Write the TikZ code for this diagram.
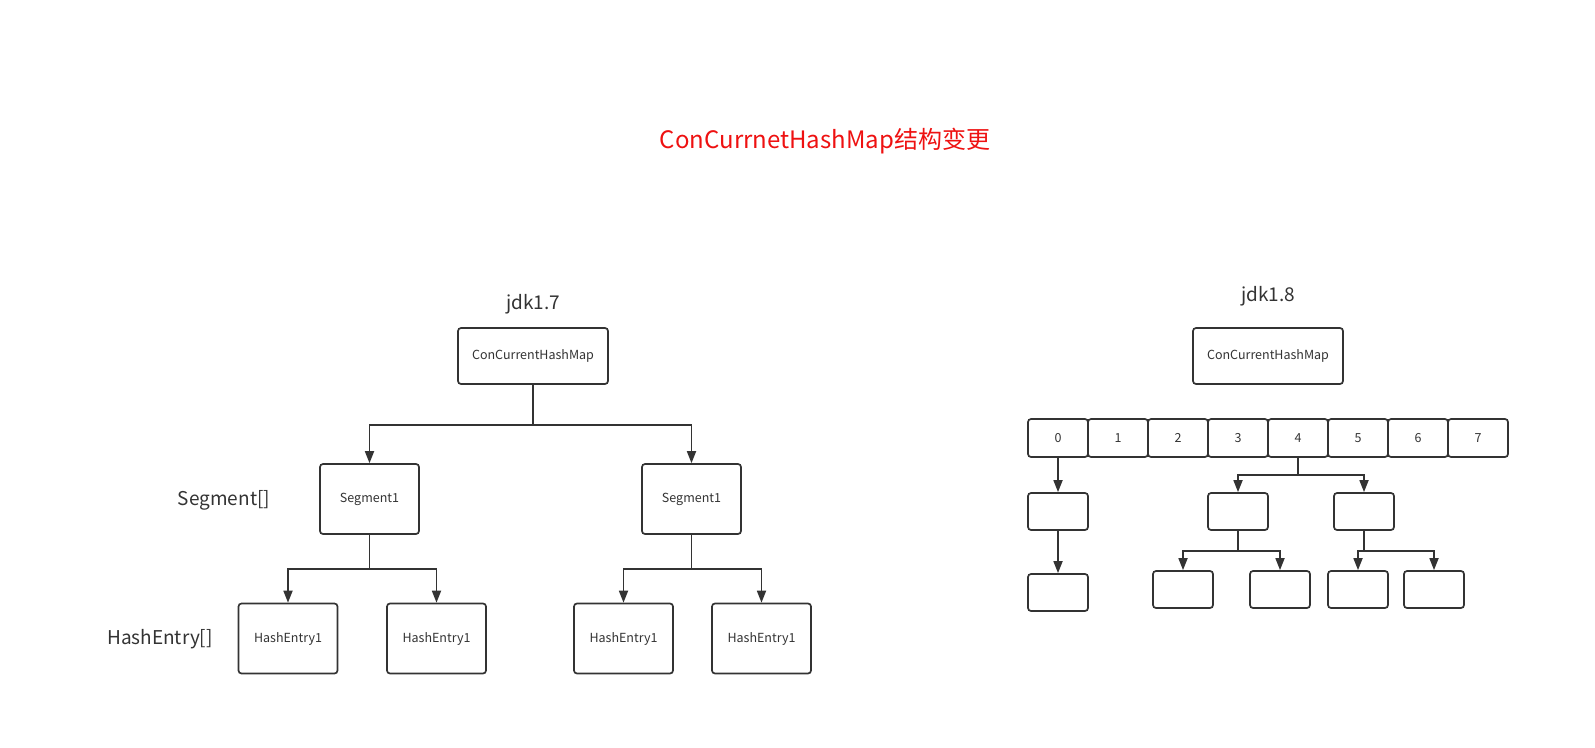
\documentclass[tikz,border=0pt]{standalone}
\usepackage{fontspec}
\setmainfont{Noto Sans CJK SC}
\usetikzlibrary{arrows.meta}
\definecolor{trait}{HTML}{333333}
\definecolor{titre}{HTML}{EE1111}
\tikzset{
  boite/.style={draw=trait, line width=1.7pt, rounded corners=3pt, inner sep=0pt,
    text=trait, font=\fontsize{12.5}{14}\selectfont},
  fleche/.style={draw=trait, line width=1.7pt, -{Triangle[length=12pt,width=9pt]}},
  etiquette/.style={text=trait, font=\fontsize{19}{22}\selectfont}
}
\begin{document}
\begin{tikzpicture}[x=1pt,y=-1pt]
    \useasboundingbox (0,0) rectangle (1595,747);

    % Titre
    \node[text=titre, font=\fontsize{24}{28}\selectfont] (titre) at (825,141) {ConCurrnetHashMap结构变更};

    % jdk1.7 : segments puis entrees
    \node[etiquette] (jdk7) at (533,304) {jdk1.7};
    \node[boite, minimum width=150, minimum height=56] (map7) at (533,356) {ConCurrentHashMap};
    \node[boite, minimum width=99, minimum height=70] (segA) at (369.5,499) {Segment1};
    \node[boite, minimum width=99, minimum height=70] (segB) at (691.5,499) {Segment1};
    \node[etiquette] (lblSeg) at (224,500) {Segment[]};
    \node[etiquette] (lblEntry) at (160,639) {HashEntry[]};
    \node[boite, minimum width=99, minimum height=70] (entA) at (288,638.5) {HashEntry1};
    \node[boite, minimum width=99, minimum height=70] (entB) at (436.5,638.5) {HashEntry1};
    \node[boite, minimum width=99, minimum height=70] (entC) at (623.5,638.5) {HashEntry1};
    \node[boite, minimum width=99, minimum height=70] (entD) at (761.5,638.5) {HashEntry1};

    \draw[fleche] (map7.south) -- ++(0,40) -| (segA.north);
    \draw[fleche] (map7.south) -- ++(0,40) -| (segB.north);
    \draw[fleche] (segA.south) -- ++(0,34) -| (entA.north);
    \draw[fleche] (segA.south) -- ++(0,34) -| (entB.north);
    \draw[fleche] (segB.south) -- ++(0,34) -| (entC.north);
    \draw[fleche] (segB.south) -- ++(0,34) -| (entD.north);

    % jdk1.8 : tableau, listes et arbres
    \node[etiquette] (jdk8) at (1268,296) {jdk1.8};
    \node[boite, minimum width=150, minimum height=56] (map8) at (1268,356) {ConCurrentHashMap};
    \foreach \i in {0,...,7}
        \node[boite, minimum width=60, minimum height=38] (c\i) at ({1058+60*\i},438) {\i};

    \node[boite, minimum width=60, minimum height=37] (l1) at (1058,511.5) {};
    \node[boite, minimum width=60, minimum height=37] (l2) at (1058,592.5) {};
    \node[boite, minimum width=60, minimum height=37] (t1) at (1238,511.5) {};
    \node[boite, minimum width=60, minimum height=37] (t2) at (1364,511.5) {};
    \node[boite, minimum width=60, minimum height=37] (t3) at (1183,589.5) {};
    \node[boite, minimum width=60, minimum height=37] (t4) at (1280,589.5) {};
    \node[boite, minimum width=60, minimum height=37] (t5) at (1358,589.5) {};
    \node[boite, minimum width=60, minimum height=37] (t6) at (1434,589.5) {};

    \draw[fleche] (c0.south) -- (l1.north);
    \draw[fleche] (l1.south) -- (l2.north);
    \draw[fleche] (c4.south) -- ++(0,17) -| (t1.north);
    \draw[fleche] (c4.south) -- ++(0,17) -| (t2.north);
    \draw[fleche] (t1.south) -- ++(0,20) -| (t3.north);
    \draw[fleche] (t1.south) -- ++(0,20) -| (t4.north);
    \draw[fleche] (t2.south) -- ++(0,20) -| (t5.north);
    \draw[fleche] (t2.south) -- ++(0,20) -| (t6.north);
\end{tikzpicture}
\end{document}
